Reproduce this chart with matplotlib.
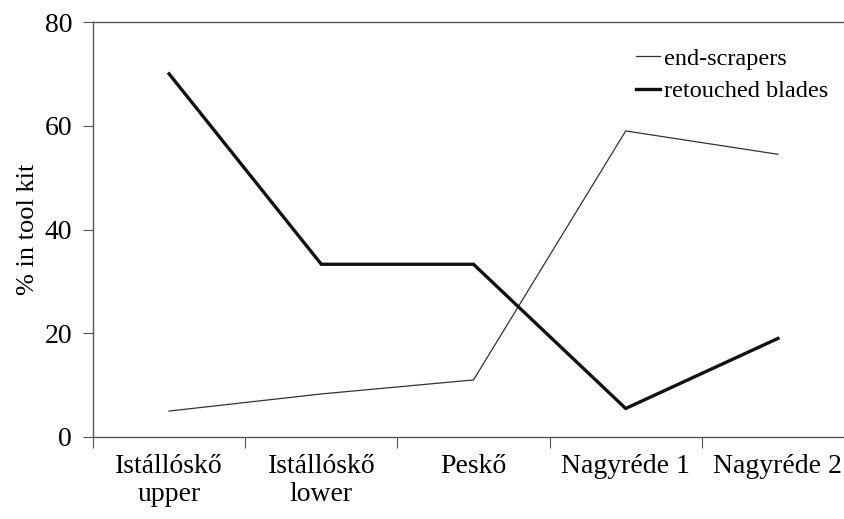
import matplotlib.pyplot as plt
from matplotlib.ticker import FixedLocator

plt.rcParams["font.family"] = ["Liberation Serif", "DejaVu Serif"]

sites = ["Istállóskő\nupper", "Istállóskő\nlower", "Peskő", "Nagyréde 1", "Nagyréde 2"]
end_scrapers = [5.0, 8.3, 11.0, 59.0, 54.5]
retouched_blades = [70.0, 33.3, 33.3, 5.5, 19.0]
y_ticks = [0, 20, 40, 60, 80]

fig = plt.figure(figsize=(8.45, 5.19), dpi=100)
ax = fig.add_axes([93 / 845, 1 - 437 / 519, 761 / 845, 415 / 519])

x = list(range(len(sites)))
ax.plot(x, end_scrapers, color="#333333", lw=0.9, label="end-scrapers")
ax.plot(x, retouched_blades, color="#111111", lw=2.4, label="retouched blades",
        solid_joinstyle="miter")

ax.set_xlim(-0.5, len(sites) - 0.5)
ax.set_ylim(0, 80)
ax.set_yticks(y_ticks)
ax.tick_params(axis="y", labelsize=20, length=7, width=0.8, color="#555555", pad=8)

ax.set_xticks(x)
ax.set_xticklabels(sites)
ax.xaxis.set_minor_locator(FixedLocator([i + 0.5 for i in range(-1, len(sites))]))
ax.tick_params(axis="x", which="major", length=0, labelsize=20, pad=12)
ax.tick_params(axis="x", which="minor", length=8, width=0.8, color="#555555")

for side in ["left", "bottom", "top"]:
    ax.spines[side].set_color("#555555")
    ax.spines[side].set_linewidth(1.0)
ax.spines["right"].set_visible(False)

ax.set_ylabel("% in tool kit", fontsize=19, labelpad=4)

ax.legend(loc="upper left", bbox_to_anchor=(0.701, 0.962), frameon=False,
          fontsize=17.5, handlelength=1.0, handletextpad=0.15, labelspacing=0.45,
          borderaxespad=0)

fig.savefig("out.png", dpi=100)
